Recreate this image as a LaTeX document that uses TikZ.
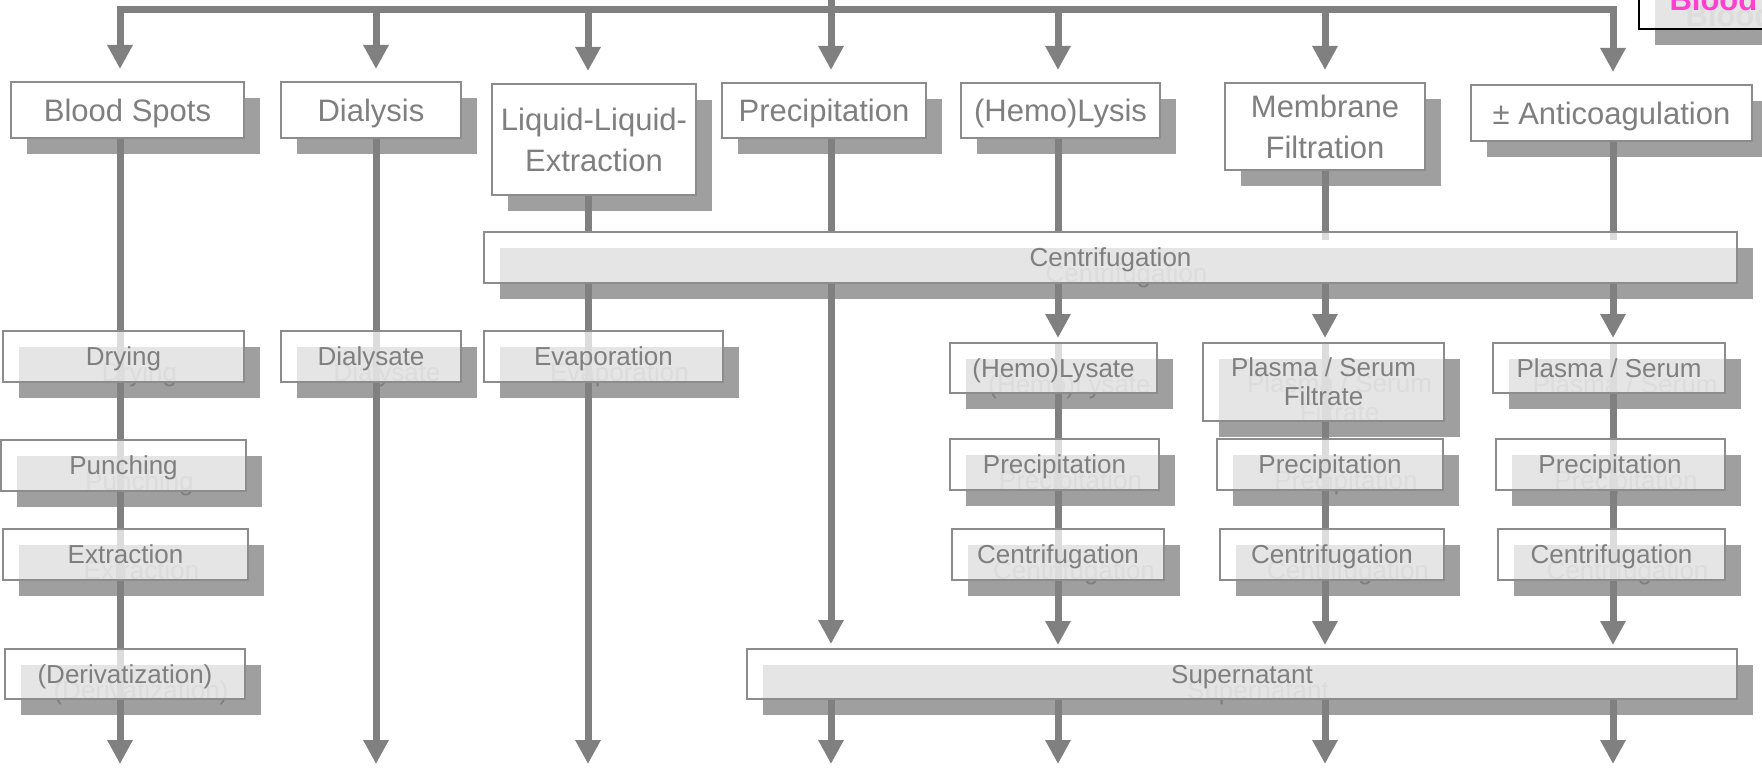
\documentclass[tikz,border=0pt]{standalone}
\usepackage{fontspec}
\setmainfont{Liberation Sans}
\usepackage{tikz}
\usetikzlibrary{arrows.meta,positioning}
\definecolor{linegray}{HTML}{808080}
\definecolor{shadegray}{HTML}{9F9F9F}
\definecolor{framegray}{HTML}{8C8C8C}
\definecolor{labelgray}{HTML}{7F7F7F}
\definecolor{bloodpink}{HTML}{FF3FCF}
\pgfdeclarelayer{shadelayer}
\pgfdeclarelayer{edgelayer}
\pgfsetlayers{shadelayer,edgelayer,main}
% box with its shadow copy underneath
\newcommand{\flowbox}[5]{%
\begin{pgfonlayer}{shadelayer}
\node[#1,#4,boxshade,#1 shade] (#2s) at #3 {#5};
\end{pgfonlayer}
\node[#1,#4] (#2) at #3 {#5};
}

\begin{document}
\begin{tikzpicture}[x=1pt,y=-1pt,
topbox/.style={draw=framegray,line width=2pt,fill=white,text=labelgray,font=\fontsize{31}{41}\selectfont,align=center,inner sep=0pt,text depth=0pt},
stepbox/.style={draw=framegray,line width=2pt,fill=white,fill opacity=0.73,text opacity=1,text=labelgray,font=\fontsize{26}{29}\selectfont,align=center,inner sep=0pt,text depth=0pt},
bloodbox/.style={draw=black,line width=2pt,fill=white,fill opacity=0.73,text opacity=1,text=bloodpink,font=\fontsize{31}{41}\selectfont\bfseries,align=left,text width=200pt,inner xsep=30.5pt,inner ysep=0pt},
boxshade/.style={draw=none,fill=shadegray,fill opacity=1,text=labelgray,xshift=16pt,yshift=-16pt},
topbox shade/.style={text=shadegray},
stepbox shade/.style={},
bloodbox shade/.style={},
flowline/.style={draw=linegray,line width=7pt},
flowarrow/.style={flowline,-{Triangle[width=24pt,length=24pt]},shorten >=4pt}]
\useasboundingbox (0,0) rectangle (1762,770);

% first row
\flowbox{topbox}{bspots}{(127.5,110)}{minimum width=233pt,minimum height=56pt}{Blood Spots}
\flowbox{topbox}{dialysis}{(371,110)}{minimum width=180pt,minimum height=56pt}{Dialysis}
\flowbox{topbox}{lle}{(594,139.5)}{minimum width=204pt,minimum height=111pt}{Liquid-Liquid-\\Extraction}
\flowbox{topbox}{precip}{(824,110.5)}{minimum width=204pt,minimum height=55pt}{Precipitation}
\flowbox{topbox}{lysis}{(1060.5,110.5)}{minimum width=199pt,minimum height=55pt}{(Hemo)Lysis}
\flowbox{topbox}{membrane}{(1325,126.5)}{minimum width=200pt,minimum height=87pt}{Membrane\\Filtration}
\flowbox{topbox}{anticoag}{(1611.5,113)}{minimum width=281pt,minimum height=56pt}{± Anticoagulation}
\flowbox{bloodbox}{blood}{(1769.5,-1)}{minimum width=261pt,minimum height=60pt}{Blood}

% wide boxes
\flowbox{stepbox}{centr}{(1110.5,257.5)}{minimum width=1253pt,minimum height=51pt}{Centrifugation}
\flowbox{stepbox}{super}{(1242,674)}{minimum width=990pt,minimum height=50pt}{Supernatant}

% lower steps
\flowbox{stepbox}{drying}{(123.5,356.5)}{minimum width=241pt,minimum height=51pt}{Drying}
\flowbox{stepbox}{punching}{(123.5,465.5)}{minimum width=245pt,minimum height=51pt}{Punching}
\flowbox{stepbox}{extract}{(125.5,554.5)}{minimum width=245pt,minimum height=51pt}{Extraction}
\flowbox{stepbox}{deriv}{(125,674)}{minimum width=240pt,minimum height=50pt}{(Derivatization)}
\flowbox{stepbox}{dialysate}{(371,356.5)}{minimum width=180pt,minimum height=51pt}{Dialysate}
\flowbox{stepbox}{evap}{(603.5,356.5)}{minimum width=239pt,minimum height=51pt}{Evaporation}
\flowbox{stepbox}{lysate}{(1053.5,368)}{minimum width=207pt,minimum height=50pt}{(Hemo)Lysate}
\flowbox{stepbox}{filtrate}{(1323.5,382)}{minimum width=241pt,minimum height=78pt}{Plasma / Serum\\Filtrate}
\flowbox{stepbox}{plasma}{(1609,368)}{minimum width=232pt,minimum height=50pt}{Plasma / Serum}
\flowbox{stepbox}{precipA}{(1054.5,464.5)}{minimum width=209pt,minimum height=51pt}{Precipitation}
\flowbox{stepbox}{precipB}{(1330,464.5)}{minimum width=226pt,minimum height=51pt}{Precipitation}
\flowbox{stepbox}{precipC}{(1610,464.5)}{minimum width=229pt,minimum height=51pt}{Precipitation}
\flowbox{stepbox}{centrA}{(1058,554.5)}{minimum width=212pt,minimum height=51pt}{Centrifugation}
\flowbox{stepbox}{centrB}{(1332,554.5)}{minimum width=224pt,minimum height=51pt}{Centrifugation}
\flowbox{stepbox}{centrC}{(1611.5,554.5)}{minimum width=227pt,minimum height=51pt}{Centrifugation}

\coordinate (feed) at (831,-10);
\coordinate (t1) at (120,10);
\coordinate (t2) at (376,10);
\coordinate (t3) at (588,10);
\coordinate (t4) at (831,10);
\coordinate (t5) at (1058,10);
\coordinate (t6) at (1325,10);
\coordinate (t7) at (1613,10);
\coordinate (b1) at (120,768);
\coordinate (b2) at (376,768);
\coordinate (b3) at (588,768);
\coordinate (b4) at (831,768);
\coordinate (b5) at (1058,768);
\coordinate (b6) at (1325,768);
\coordinate (b7) at (1613,768);

\begin{pgfonlayer}{edgelayer}
\draw[flowline,line cap=rect] (t1) -- (t7);
\draw[flowarrow,shorten >=12pt] (feed) -- (t4 |- precip.north);
\draw[flowarrow,shorten >=12pt] (t1) -- (t1 |- bspots.north);
\draw[flowarrow,shorten >=12pt] (t2) -- (t2 |- dialysis.north);
\draw[flowarrow,shorten >=12pt] (t3) -- (t3 |- lle.north);
\draw[flowarrow,shorten >=12pt] (t5) -- (t5 |- lysis.north);
\draw[flowarrow,shorten >=12pt] (t6) -- (t6 |- membrane.north);
\draw[flowarrow,shorten >=12pt] (t7) -- (t7 |- anticoag.north);
% straight columns
\draw[flowarrow] (t1 |- bspots.south) -- (b1);
\draw[flowarrow] (t2 |- dialysis.south) -- (b2);
% into the centrifuge
\draw[flowline] (t3 |- lle.south) -- (t3 |- centr.north);
\draw[flowline] (t4 |- precip.south) -- (t4 |- centr.north);
\draw[flowline] (t5 |- lysis.south) -- (t5 |- centr.north);
\draw[flowline,shorten >=-9pt] (t6 |- membrane.south) -- (t6 |- centr.north);
\draw[flowline,shorten >=-9pt] (t7 |- anticoag.south) -- (t7 |- centr.north);
% out of the centrifuge
\draw[flowarrow] (t3 |- centr.south) -- (b3);
\draw[flowarrow] (t4 |- centr.south) -- (t4 |- super.north);
\draw[flowarrow] (t5 |- centr.south) -- (t5 |- lysate.north);
\draw[flowarrow] (t6 |- centr.south) -- (t6 |- filtrate.north);
\draw[flowarrow] (t7 |- centr.south) -- (t7 |- plasma.north);
\draw[flowarrow,shorten >=3pt] (t5 |- lysate.north) -- (t5 |- super.north);
\draw[flowarrow,shorten >=3pt] (t6 |- filtrate.north) -- (t6 |- super.north);
\draw[flowarrow,shorten >=3pt] (t7 |- plasma.north) -- (t7 |- super.north);
% below the supernatant
\draw[flowarrow] (t4 |- super.south) -- (b4);
\draw[flowarrow] (t5 |- super.south) -- (b5);
\draw[flowarrow] (t6 |- super.south) -- (b6);
\draw[flowarrow] (t7 |- super.south) -- (b7);
\end{pgfonlayer}
\end{tikzpicture}
\end{document}
